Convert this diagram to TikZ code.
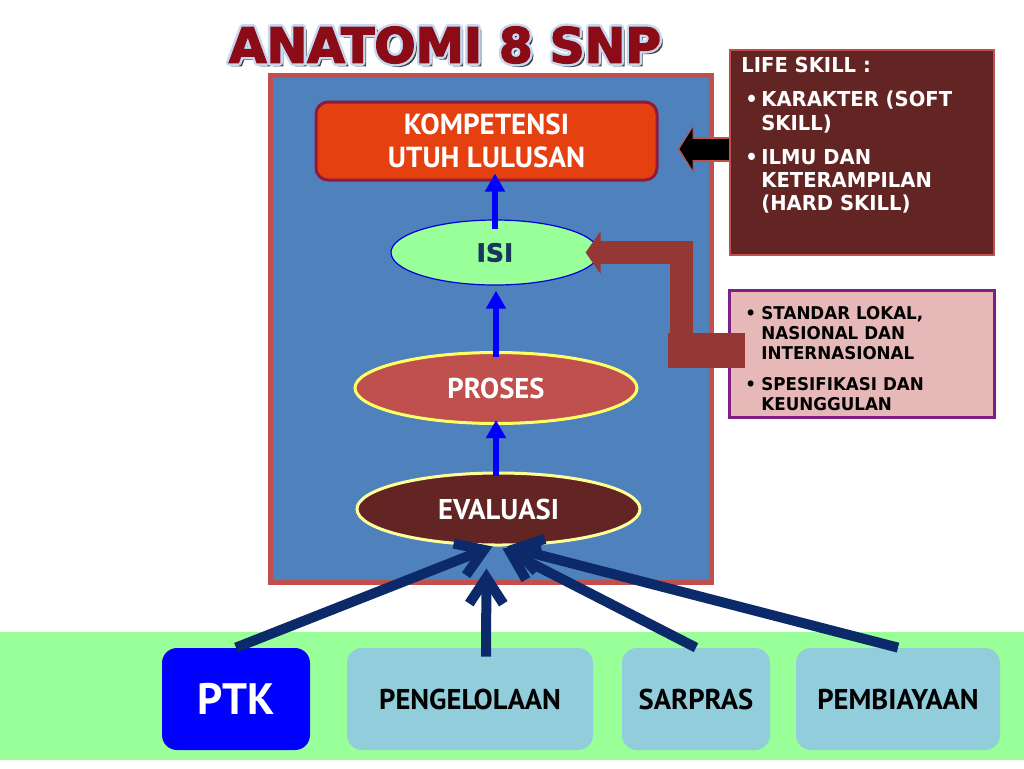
\documentclass[tikz,border=0pt]{standalone}
\usepackage{fontspec}
\usepackage{graphicx}
\setmainfont{PT Sans}
\newfontfamily\boxfont{DejaVu Sans}[FakeStretch=0.95]
\newfontfamily\isifont{DejaVu Sans}[BoldFeatures={FakeBold=2}]
\newfontfamily\titlefont{DejaVu Sans}[BoldFeatures={FakeBold=3}]
\usetikzlibrary{arrows.meta,positioning,shapes.geometric}
\definecolor{framered}{HTML}{C0504D}
\definecolor{slideblue}{HTML}{4F81BD}
\definecolor{goalred}{HTML}{E5400F}
\definecolor{goaledge}{HTML}{8E1B3F}
\definecolor{isigreen}{HTML}{99FF99}
\definecolor{isinavy}{HTML}{17375E}
\definecolor{procred}{HTML}{C0504D}
\definecolor{procyellow}{HTML}{FFFF66}
\definecolor{evalbrown}{HTML}{632523}
\definecolor{evalyellow}{HTML}{FFFF99}
\definecolor{stdpink}{HTML}{E6B9B8}
\definecolor{stdpurple}{HTML}{7F1F86}
\definecolor{bendbrown}{HTML}{953735}
\definecolor{unitcyan}{HTML}{92CDDC}
\definecolor{feednavy}{HTML}{0C2A6A}
\definecolor{titlered}{HTML}{8B0B16}
\definecolor{titlerim}{HTML}{C6D9F1}
\newcommand\titletext{\resizebox{216pt}{18pt}{\titlefont\bfseries ANATOMI 8 SNP}}
\newcommand\skillitem[1]{\par\hangindent=10pt\hangafter=1\noindent\makebox[10pt][l]{\hspace{2pt}\textbullet}#1}

\begin{document}
\begin{tikzpicture}[x=0.5pt,y=-0.5pt,
  every node/.style={inner sep=0pt},
  panel/.style={draw=framered,line width=2.5pt,fill=slideblue,minimum width=220.5pt,minimum height=253.5pt},
  goalbox/.style={draw=goaledge,line width=1.5pt,fill=goalred,rounded corners=6pt,minimum width=170.5pt,minimum height=39pt,
    align=center,text=white,font=\fontsize{14.5}{16.5}\selectfont\bfseries},
  isioval/.style={ellipse,draw=blue!85!black,line width=0.6pt,fill=isigreen,minimum width=104pt,minimum height=32.5pt,
    text=isinavy,font=\isifont\fontsize{12.5}{14}\selectfont\bfseries},
  stageoval/.style={ellipse,line width=1.5pt,minimum width=141pt,minimum height=35.5pt,text=white,
    font=\fontsize{14.3}{16}\selectfont\bfseries},
  uparrow/.style={draw=blue,line width=3.2pt,-{Triangle[length=9pt,width=9.5pt]}},
  lifebox/.style={draw=framered,line width=1.2pt,fill=evalbrown,minimum width=132pt,minimum height=102.5pt},
  stdbox/.style={draw=stdpurple,line width=1.5pt,fill=stdpink,minimum width=132.5pt,minimum height=63.5pt},
  boxtext/.style={anchor=north west,text width=125pt,align=left},
  unitbox/.style={fill=unitcyan,rounded corners=7.5pt,minimum height=51pt,font=\fontsize{14.3}{16}\selectfont\bfseries},
  feeder/.style={draw=feednavy,line width=5pt,-{Straight Barb[length=13pt,width=17pt]}},
  titlerimstyle/.style={text=titlerim},
]
\useasboundingbox (0,0) rectangle (1024,768);

% title
\coordinate (titlepos) at (445,45);
\node[text=black!75] at ([xshift=1.5pt,yshift=-1.5pt]titlepos) {\titletext};
\foreach \a in {0,30,...,330}
  \node[titlerimstyle] at ([shift={(\a:1.2pt)}]titlepos) {\titletext};
\node[text=titlered] (title) at (titlepos) {\titletext};

% main panel
\node[panel] (frame) at (490.5,328.5) {};
\node[goalbox] (komp) at (486.5,141) {KOMPETENSI\\UTUH LULUSAN};
\node[isioval] (isi) at (495,252.5) {ISI};
\node[stageoval,fill=procred,draw=procyellow] (proses) at (496,388) {PROSES};
\node[stageoval,fill=evalbrown,draw=evalyellow,minimum width=141.5pt,minimum height=36pt] (evaluasi) at (498.5,509) {EVALUASI};

\draw[uparrow,shorten <=-5pt,shorten >=-4pt] (isi.north) -- (isi.north |- komp.south);
\draw[uparrow,shorten <=-3pt,shorten >=2.5pt] (proses.north) -- (proses.north |- isi.south);
\draw[uparrow,shorten <=-2pt,shorten >=-2.5pt] (evaluasi.north -| proses.south) -- (proses.south);

% side boxes
\node[lifebox] (life) at (862,152.5) {};
\node[boxtext,text=white,font=\boxfont\fontsize{10.3}{11.7}\selectfont\bfseries] (lifetxt) at (741,57)
  {LIFE SKILL :\par\vspace{5.3pt}
   \skillitem{KARAKTER (SOFT\newline SKILL)}\par\vspace{5.3pt}
   \skillitem{ILMU DAN\newline KETERAMPILAN\newline (HARD SKILL)}\par};
\draw[draw=framered,line width=12.5pt,-{Triangle[length=8pt,width=24pt]}] ([yshift=1.75pt]life.west) -- ++(-51,0);
\draw[draw=black,line width=10.5pt,-{Triangle[length=6.5pt,width=20.5pt]},shorten >=0.9pt] ([yshift=1.75pt]life.west) -- ++(-51,0);

\node[stdbox] (std) at (861.5,353.5) {};
\draw[bendbrown,line width=17.5pt] ([xshift=8.5pt,yshift=1.5pt]std.west) -- ++(-77,0);
\draw[bendbrown,line width=11.5pt,line join=miter,-{Triangle[length=7.5pt,width=21pt]}]
  ([xshift=8.5pt,yshift=1.5pt]std.west) -- ++(-63,0) |- ([xshift=-7pt]isi.east);
\node[boxtext,text=black,font=\boxfont\fontsize{8.8}{10}\selectfont\bfseries] (stdtxt) at (741,299)
  {\skillitem{STANDAR LOKAL,\newline NASIONAL DAN\newline INTERNASIONAL}\par\vspace{5.5pt}
   \skillitem{SPESIFIKASI DAN\newline KEUNGGULAN}\par};

% supporting standards
\fill[isigreen] (0,632) rectangle (1024,760);
\node[unitbox,fill=blue,text=white,minimum width=74pt,font=\fontsize{22}{24}\selectfont\bfseries] (ptk) at (236,699) {PTK};
\node[unitbox,minimum width=123pt] (peng) at (470,699) {PENGELOLAAN};
\node[unitbox,minimum width=74pt] (sarp) at (696,699) {SARPRAS};
\node[unitbox,minimum width=102pt] (pemb) at (898,699) {PEMBIAYAAN};

\draw[feeder] (ptk.north) -- ([xshift=-3pt]evaluasi.south);
\draw[feeder] ([xshift=8pt,yshift=-4.5pt]peng.north) -- ([xshift=-6pt,yshift=-11pt]evaluasi.south);
\draw[feeder] (sarp.north) -- ([xshift=2pt,yshift=-1pt]evaluasi.south);
\draw[feeder] (pemb.north) -- ([xshift=4pt]evaluasi.south);
\end{tikzpicture}
\end{document}
